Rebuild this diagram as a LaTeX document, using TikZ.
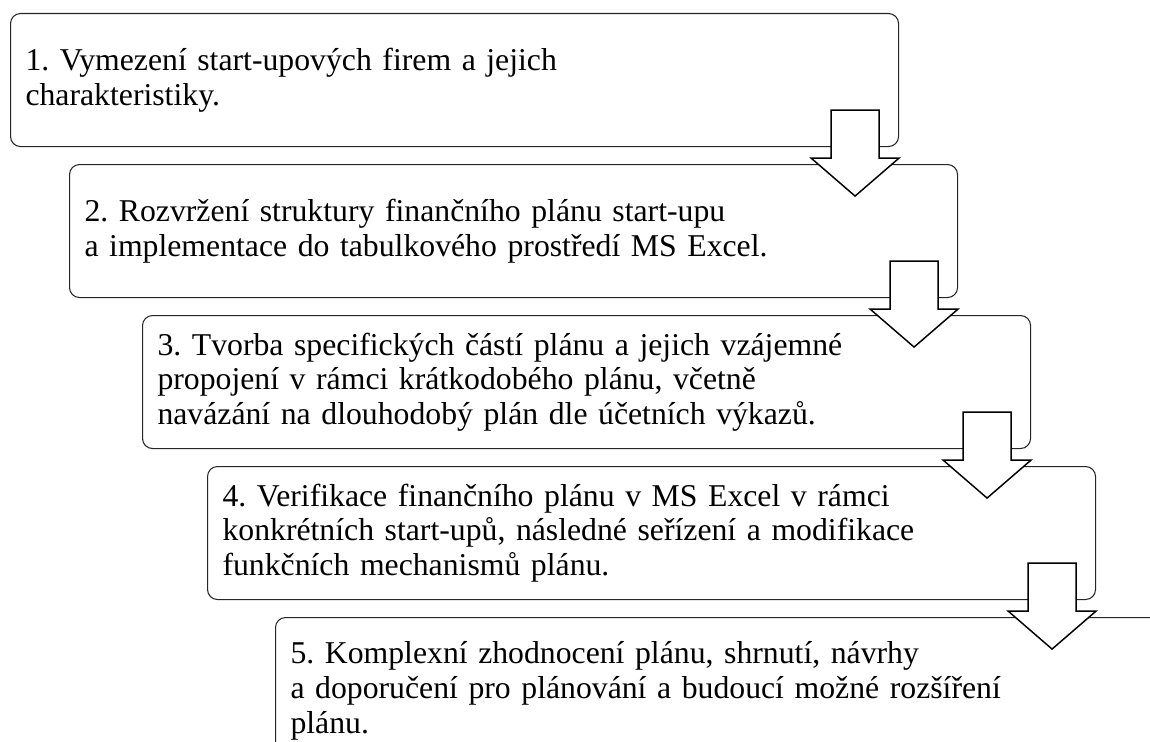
\documentclass[tikz,border=0pt]{standalone}
\usepackage{fontspec}
\setmainfont{Liberation Serif}
\usetikzlibrary{calc}

% white block arrow hanging from the lower right corner of a step
\newcommand{\stepArrow}[1]{%
  \draw[blockarrow] ($(#1.south east)+(-68,-37)$) -- ++(48,0) -- ++(0,48)
    -- ++(20,0) -- ++(-44,38) -- ++(-44,-38) -- ++(20,0) -- cycle;}

\begin{document}
\frenchspacing
\begin{tikzpicture}[x=0.75pt,y=-0.75pt,
  stepbox/.style={draw=black!85,line width=0.8pt,rounded corners=7.5pt,fill=white,
    anchor=north west,minimum width=666pt,minimum height=99.75pt,
    text width=643.5pt,inner xsep=11.25pt,inner ysep=0pt,align=left,
    font=\fontsize{23.8}{26}\selectfont},
  blockarrow/.style={draw=black,line width=1.1pt,fill=white,line join=miter}]
  \useasboundingbox (0,0) rectangle (1150,742);
  \node[stepbox] (s1) at (10,13) {1. Vymezení start-upových firem a jejich\\charakteristiky.};
  \node[stepbox] (s2) at (69,164) {2. Rozvržení struktury finančního plánu start-upu\\a implementace do tabulkového prostředí MS Excel.};
  \node[stepbox] (s3) at (142,315) {3. Tvorba specifických částí plánu a jejich vzájemné\\propojení v rámci krátkodobého plánu, včetně\\navázání na dlouhodobý plán dle účetních výkazů.};
  \node[stepbox] (s4) at (207,466) {4. Verifikace finančního plánu v MS Excel v rámci\\konkrétních start-upů, následné seřízení a modifikace\\funkčních mechanismů plánu.};
  \node[stepbox,minimum height=110pt] (s5) at (275,617) {5. Komplexní zhodnocení plánu, shrnutí, návrhy\\a doporučení pro plánování a budoucí možné rozšíření\\plánu.};
  \stepArrow{s1} \stepArrow{s2}
  \stepArrow{s3} \stepArrow{s4}
\end{tikzpicture}
\end{document}
